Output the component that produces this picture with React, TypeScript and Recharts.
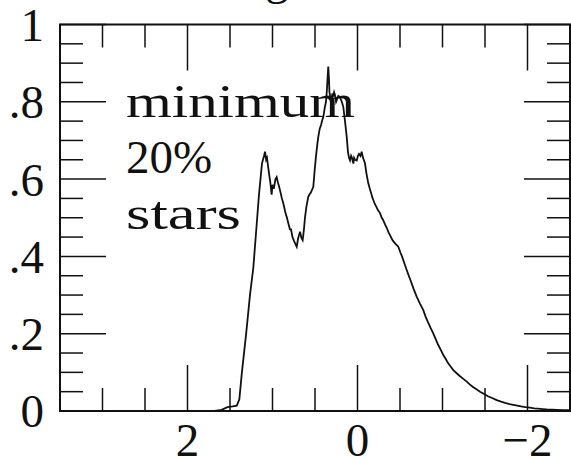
import { Customized, Line, LineChart, ReferenceArea, XAxis, YAxis } from "recharts";

const CHART_W = 571;
const CHART_H = 459;
const MARGIN = { top: 24.5, right: 1, left: 0, bottom: 0 };
const X_AXIS_H = 48;
const Y_AXIS_W = 60;
const PLOT_W = CHART_W - Y_AXIS_W - MARGIN.right;
const PLOT_H = CHART_H - MARGIN.top - X_AXIS_H;

const INK = "#111";
const FONT = "'Liberation Serif', 'DejaVu Serif', serif";

// tick marks
const X_TICKS = [3.5, 3, 2.5, 2, 1.5, 1, 0.5, 0, -0.5, -1, -1.5, -2, -2.5];
const X_LABELS = [2, 0, -2];
const Y_TICKS = [
  0, 0.05, 0.1, 0.15, 0.2, 0.25, 0.3, 0.35, 0.4, 0.45, 0.5, 0.55, 0.6, 0.65, 0.7, 0.75, 0.8, 0.85,
  0.9, 0.95, 1,
];
const Y_LABELS = [0, 0.2, 0.4, 0.6, 0.8, 1];

const NOTE_LINES = ["minimum", "20%", "stars"];

// the curve
const X_VALUES = [
  3.5, 1.68, 1.6, 1.53, 1.47, 1.42, 1.39, 1.36, 1.31, 1.265, 1.226, 1.194, 1.159, 1.124, 1.1, 1.088,
  1.075, 1.065, 1.041, 1.025, 1.01, 1.0, 0.985, 0.965, 0.951, 0.935, 0.924, 0.905, 0.892, 0.87,
  0.85, 0.83, 0.814, 0.795, 0.782, 0.765, 0.747, 0.73, 0.715, 0.7, 0.688, 0.676, 0.66, 0.645,
  0.63, 0.618, 0.6, 0.579, 0.565, 0.547, 0.53, 0.52, 0.505, 0.488, 0.47, 0.461, 0.445, 0.429,
  0.415, 0.402, 0.385, 0.371, 0.36, 0.35, 0.344, 0.336, 0.33, 0.318, 0.304, 0.296, 0.288, 0.275,
  0.265, 0.252, 0.241, 0.225, 0.206, 0.185, 0.167, 0.155, 0.147, 0.127, 0.112, 0.1, 0.088, 0.075,
  0.065, 0.049, 0.04, 0.029, 0.009, -0.005, -0.018, -0.035, -0.049, -0.065, -0.088, -0.105,
  -0.127, -0.145, -0.159, -0.175, -0.186, -0.205, -0.218, -0.24, -0.265, -0.285, -0.3, -0.325,
  -0.344, -0.365, -0.382, -0.4, -0.418, -0.45, -0.48, -0.505, -0.524, -0.55, -0.579, -0.6, -0.629,
  -0.66, -0.696, -0.735, -0.774, -0.8, -0.829, -0.86, -0.891, -0.92, -0.947, -0.98, -1.009, -1.04,
  -1.065, -1.1, -1.127, -1.17, -1.206, -1.245, -1.285, -1.32, -1.359, -1.4, -1.441, -1.49, -1.535,
  -1.59, -1.638, -1.69, -1.735, -1.79, -1.833, -1.88, -1.924, -1.975, -2.029, -2.08, -2.124,
  -2.175, -2.226, -2.29, -2.347, -2.42, -2.5,
];
const Y_VALUES = [
  0, 0, 0.003, 0.01, 0.012, 0.014, 0.03, 0.1, 0.2, 0.3, 0.37, 0.46, 0.56, 0.64, 0.66, 0.671, 0.65,
  0.655, 0.615, 0.59, 0.56, 0.585, 0.575, 0.6, 0.605, 0.59, 0.582, 0.565, 0.552, 0.535, 0.515, 0.5,
  0.486, 0.47, 0.47, 0.45, 0.44, 0.432, 0.425, 0.445, 0.455, 0.464, 0.448, 0.442, 0.47, 0.5, 0.53,
  0.554, 0.56, 0.566, 0.575, 0.58, 0.62, 0.66, 0.695, 0.71, 0.73, 0.74, 0.752, 0.761, 0.785, 0.8,
  0.83, 0.87, 0.891, 0.86, 0.825, 0.81, 0.805, 0.822, 0.812, 0.825, 0.818, 0.8, 0.806, 0.815,
  0.812, 0.8, 0.787, 0.765, 0.75, 0.71, 0.67, 0.655, 0.648, 0.66, 0.655, 0.64, 0.655, 0.65, 0.648,
  0.66, 0.665, 0.66, 0.671, 0.655, 0.641, 0.615, 0.589, 0.575, 0.565, 0.552, 0.546, 0.535, 0.53,
  0.52, 0.512, 0.5, 0.495, 0.482, 0.474, 0.462, 0.455, 0.447, 0.44, 0.432, 0.425, 0.41, 0.4, 0.383,
  0.365, 0.352, 0.335, 0.316, 0.296, 0.278, 0.261, 0.245, 0.23, 0.215, 0.201, 0.186, 0.172, 0.158,
  0.145, 0.134, 0.124, 0.114, 0.106, 0.097, 0.09, 0.083, 0.076, 0.069, 0.062, 0.056, 0.05, 0.044,
  0.038, 0.033, 0.028, 0.024, 0.021, 0.018, 0.016, 0.014, 0.012, 0.01, 0.0085, 0.007, 0.006, 0.005,
  0.004, 0.0035, 0.003, 0.0025, 0.002,
];

const data = X_VALUES.map((x, i) => ({ x, y: Y_VALUES[i] }));

const isMajor = (v: number, list: number[]) => list.some((m) => Math.abs(m - v) < 1e-9);

function formatX(v: number) {
  return v < 0 ? `\u2212${Math.abs(v)}` : `${v}`;
}

function formatY(v: number) {
  return v === 0 || v === 1 ? `${v}` : `${v}`.replace(/^0/, "");
}

function XTick(props: any) {
  const { x, y, payload } = props;
  const v = payload.value as number;
  const major = isMajor(v, X_LABELS);
  const len = major ? 46 : 23;
  const top = y - PLOT_H;
  return (
    <g>
      <line x1={x} y1={y} x2={x} y2={y - len} stroke={INK} strokeWidth={1.5} />
      <line x1={x} y1={top} x2={x} y2={top + len} stroke={INK} strokeWidth={1.5} />
      {major && (
        <text x={x} y={y + 45} textAnchor="middle" fontFamily={FONT} fontSize={47} fill={INK}>
          {formatX(v)}
        </text>
      )}
    </g>
  );
}

function YTick(props: any) {
  const { x, y, payload } = props;
  const v = payload.value as number;
  const major = isMajor(v, Y_LABELS);
  const len = major ? 46 : 23;
  const right = x + PLOT_W;
  return (
    <g>
      <line x1={x} y1={y} x2={x + len} y2={y} stroke={INK} strokeWidth={1.5} />
      <line x1={right} y1={y} x2={right - len} y2={y} stroke={INK} strokeWidth={1.5} />
      {major && (
        <text
          x={x - 16}
          y={y}
          dy="0.35em"
          textAnchor="end"
          fontFamily={FONT}
          fontSize={47}
          fill={INK}
        >
          {formatY(v)}
        </text>
      )}
    </g>
  );
}

function Notes() {
  return (
    <g fontFamily={FONT} fontSize={47} fill={INK}>
      <text x={277} y={-6} textAnchor="middle">
        g
      </text>
      <text x={126} y={117} textLength={229} lengthAdjust="spacingAndGlyphs">
        {NOTE_LINES[0]}
      </text>
      <text x={126} y={173}>
        {NOTE_LINES[1]}
      </text>
      <text x={126} y={229} textLength={115} lengthAdjust="spacingAndGlyphs">
        {NOTE_LINES[2]}
      </text>
    </g>
  );
}

export default function App() {
  return (
    <div style={{ position: "absolute", left: 0, top: 0, background: "#fff" }}>
      <LineChart width={CHART_W} height={CHART_H} data={data} margin={MARGIN}>
        <XAxis
          dataKey="x"
          type="number"
          domain={[-2.5, 3.5]}
          reversed
          ticks={X_TICKS}
          interval={0}
          height={X_AXIS_H}
          tickSize={0}
          tickMargin={0}
          tickLine={false}
          axisLine={false}
          tick={<XTick />}
        />
        <YAxis
          type="number"
          domain={[0, 1]}
          ticks={Y_TICKS}
          interval={0}
          width={Y_AXIS_W}
          tickSize={0}
          tickMargin={0}
          tickLine={false}
          axisLine={false}
          tick={<YTick />}
        />
        <ReferenceArea
          x1={-2.5}
          x2={3.5}
          y1={0}
          y2={1}
          fill="none"
          stroke={INK}
          strokeWidth={2}
          ifOverflow="visible"
        />
        <Line
          type="linear"
          dataKey="y"
          stroke={INK}
          strokeWidth={1.8}
          dot={false}
          isAnimationActive={false}
        />
        <Customized component={Notes} />
      </LineChart>
    </div>
  );
}
